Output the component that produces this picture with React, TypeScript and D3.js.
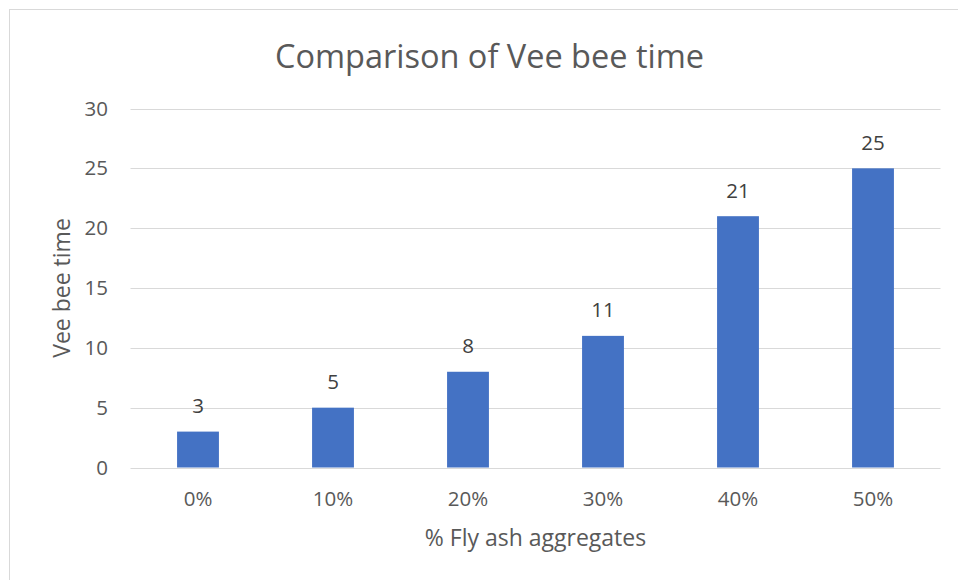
import * as d3 from 'd3';
import React, { useEffect, useRef } from 'react';

const categories = ['0%', '10%', '20%', '30%', '40%', '50%'];
const values = [3, 5, 8, 11, 21, 25];
const yTicks = [0, 5, 10, 15, 20, 25, 30];

const FONT = '"Open Sans", "Noto Sans", sans-serif';
const TEXT = '#595959';
const GRID = '#d9d9d9';
const BAR = '#4472c4';

function App() {
  const ref = useRef<SVGSVGElement>(null);

  useEffect(() => {
    draw();
  });

  const draw = () => {
    const width = 958;
    const height = 580;
    const left = 130.5, right = 940.5, top = 108.5, bottom = 467.5;

    const svg = d3.select(ref.current);
    svg.selectAll('*').remove();

    // chart area border
    svg.append('rect')
      .attr('x', 9.5).attr('y', 9.5)
      .attr('width', width + 10).attr('height', height + 10)
      .attr('fill', 'white').attr('stroke', GRID);

    const x = d3.scaleBand<string>()
      .domain(categories)
      .range([left, right])
      .paddingInner(0.69)
      .paddingOuter(0.345);

    const y = d3.scaleLinear().domain([0, 30]).range([bottom, top]);

    // gridlines
    svg.append('g').selectAll('line')
      .data(yTicks)
      .enter().append('line')
      .attr('x1', left).attr('x2', right)
      .attr('y1', d => Math.round(y(d)) + 0.5)
      .attr('y2', d => Math.round(y(d)) + 0.5)
      .attr('stroke', GRID).attr('stroke-width', 1);

    // y tick labels
    svg.append('g').selectAll('text')
      .data(yTicks)
      .enter().append('text')
      .attr('x', 108)
      .attr('y', d => y(d) + 7)
      .attr('text-anchor', 'end')
      .attr('font-family', FONT).attr('font-size', 20.5).attr('fill', TEXT)
      .text(d => d);

    // bars
    svg.append('g').selectAll('rect')
      .data(values)
      .enter().append('rect')
      .attr('x', (d, i) => x(categories[i])!)
      .attr('y', d => y(d))
      .attr('width', x.bandwidth())
      .attr('height', d => y(0) - y(d))
      .attr('fill', BAR);

    // data labels
    svg.append('g').selectAll('text')
      .data(values)
      .enter().append('text')
      .attr('x', (d, i) => x(categories[i])! + x.bandwidth() / 2)
      .attr('y', d => y(d) - 18.5)
      .attr('text-anchor', 'middle')
      .attr('font-family', FONT).attr('font-size', 20.5).attr('fill', '#404040')
      .text(d => d);

    // x tick labels
    svg.append('g').selectAll('text')
      .data(categories)
      .enter().append('text')
      .attr('x', d => x(d)! + x.bandwidth() / 2)
      .attr('y', 506)
      .attr('text-anchor', 'middle')
      .attr('font-family', FONT).attr('font-size', 20.5).attr('fill', TEXT)
      .text(d => d);

    // title
    svg.append('text')
      .attr('x', 489.5).attr('y', 68)
      .attr('text-anchor', 'middle')
      .attr('font-family', FONT).attr('font-size', 32.5).attr('fill', TEXT)
      .text('Comparison of Vee bee time');

    // axis titles
    svg.append('text')
      .attr('x', 535.5).attr('y', 546)
      .attr('text-anchor', 'middle')
      .attr('font-family', FONT).attr('font-size', 23).attr('fill', TEXT)
      .text('% Fly ash aggregates');

    svg.append('text')
      .attr('transform', 'translate(69.5,288) rotate(-90)')
      .attr('text-anchor', 'middle')
      .attr('font-family', FONT).attr('font-size', 23).attr('fill', TEXT)
      .text('Vee bee time');
  };

  return (
    <svg ref={ref} width={958} height={580}
      style={{ position: 'absolute', left: 0, top: 0, background: 'white' }} />
  );
}

export default App;
